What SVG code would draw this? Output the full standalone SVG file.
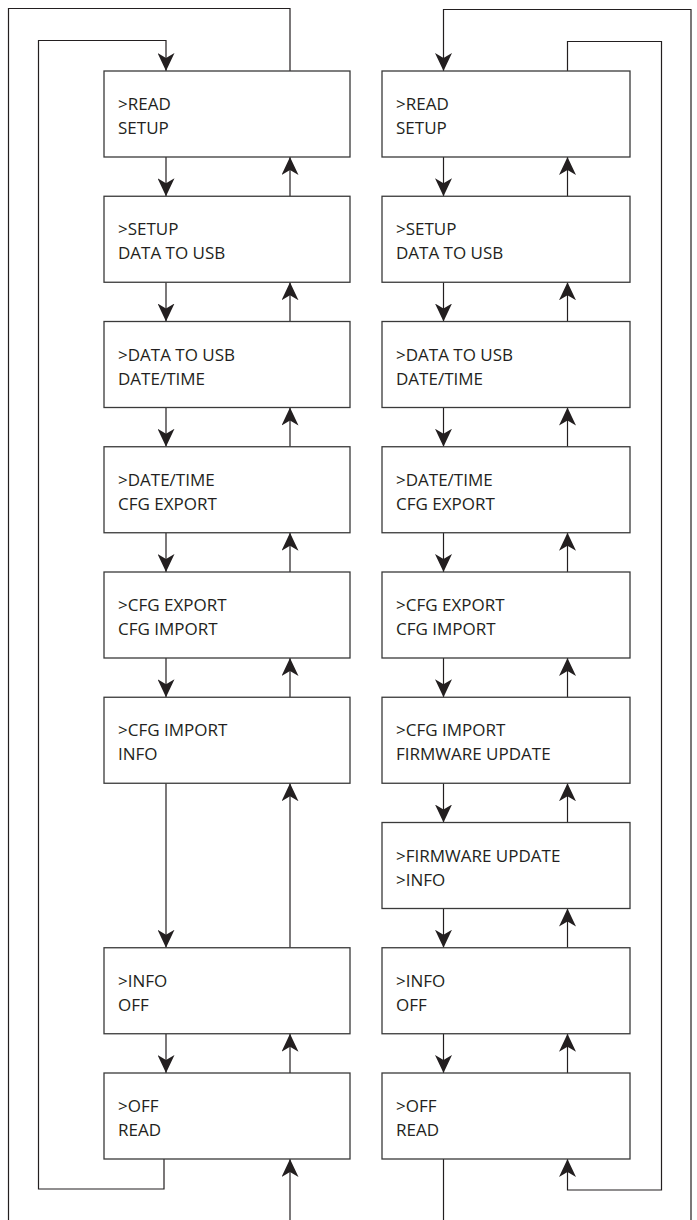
<svg xmlns="http://www.w3.org/2000/svg" width="697" height="1220" viewBox="0 0 697 1220">
<style>
.box rect{fill:#fff;stroke:#3a3a3a;stroke-width:1.3}
.box text{font-family:"Open Sans","Liberation Sans",sans-serif;font-size:17px;fill:#231f20}
.conn path{fill:none;stroke:#231f20;stroke-width:1.2}
</style>
<defs>
<marker id="ah" markerUnits="userSpaceOnUse" markerWidth="18" markerHeight="17" refX="18" refY="8.5" orient="auto" viewBox="0 0 18 17">
<path d="M0,0 L18,8.5 L0,17 L5,8.5 Z" fill="#231f20"/>
</marker>
</defs>
<rect width="697" height="1220" fill="#fff"/>
<g class="conn">
<path d="M166,157 V196.25" marker-end="url(#ah)"/>
<path d="M290,196.25 V157" marker-end="url(#ah)"/>
<path d="M166,282.25 V321.5" marker-end="url(#ah)"/>
<path d="M290,321.5 V282.25" marker-end="url(#ah)"/>
<path d="M166,407.5 V446.75" marker-end="url(#ah)"/>
<path d="M290,446.75 V407.5" marker-end="url(#ah)"/>
<path d="M166,532.75 V572" marker-end="url(#ah)"/>
<path d="M290,572 V532.75" marker-end="url(#ah)"/>
<path d="M166,658 V697.25" marker-end="url(#ah)"/>
<path d="M290,697.25 V658" marker-end="url(#ah)"/>
<path d="M166,783.25 V947.75" marker-end="url(#ah)"/>
<path d="M290,947.75 V783.25" marker-end="url(#ah)"/>
<path d="M166,1033.75 V1073" marker-end="url(#ah)"/>
<path d="M290,1073 V1033.75" marker-end="url(#ah)"/>
<path d="M290,71 V8.5 H8.5 V1220"/>
<path d="M290,1220 V1159" marker-end="url(#ah)"/>
<path d="M164,1159 V1189 H38.5 V40.5 H166 V71" marker-end="url(#ah)"/>
<path d="M443.5,157 V196.25" marker-end="url(#ah)"/>
<path d="M567.5,196.25 V157" marker-end="url(#ah)"/>
<path d="M443.5,282.25 V321.5" marker-end="url(#ah)"/>
<path d="M567.5,321.5 V282.25" marker-end="url(#ah)"/>
<path d="M443.5,407.5 V446.75" marker-end="url(#ah)"/>
<path d="M567.5,446.75 V407.5" marker-end="url(#ah)"/>
<path d="M443.5,532.75 V572" marker-end="url(#ah)"/>
<path d="M567.5,572 V532.75" marker-end="url(#ah)"/>
<path d="M443.5,658 V697.25" marker-end="url(#ah)"/>
<path d="M567.5,697.25 V658" marker-end="url(#ah)"/>
<path d="M443.5,783.25 V822.5" marker-end="url(#ah)"/>
<path d="M567.5,822.5 V783.25" marker-end="url(#ah)"/>
<path d="M443.5,908.5 V947.75" marker-end="url(#ah)"/>
<path d="M567.5,947.75 V908.5" marker-end="url(#ah)"/>
<path d="M443.5,1033.75 V1073" marker-end="url(#ah)"/>
<path d="M567.5,1073 V1033.75" marker-end="url(#ah)"/>
<path d="M443.5,1159 V1220"/>
<path d="M691,1220 V9.5 H443.5 V71" marker-end="url(#ah)"/>
<path d="M567.5,71 V41.5 H661.5 V1190 H567.5 V1159" marker-end="url(#ah)"/>
</g>
<g id="L1" class="box"><rect x="104" y="71" width="246" height="86"/><text x="118" y="110">&gt;READ</text><text x="118" y="134">SETUP</text></g>
<g id="L2" class="box"><rect x="104" y="196.25" width="246" height="86"/><text x="118" y="235.25">&gt;SETUP</text><text x="118" y="259.25">DATA TO USB</text></g>
<g id="L3" class="box"><rect x="104" y="321.5" width="246" height="86"/><text x="118" y="360.5">&gt;DATA TO USB</text><text x="118" y="384.5">DATE/TIME</text></g>
<g id="L4" class="box"><rect x="104" y="446.75" width="246" height="86"/><text x="118" y="485.75">&gt;DATE/TIME</text><text x="118" y="509.75">CFG EXPORT</text></g>
<g id="L5" class="box"><rect x="104" y="572" width="246" height="86"/><text x="118" y="611">&gt;CFG EXPORT</text><text x="118" y="635">CFG IMPORT</text></g>
<g id="L6" class="box"><rect x="104" y="697.25" width="246" height="86"/><text x="118" y="736.25">&gt;CFG IMPORT</text><text x="118" y="760.25">INFO</text></g>
<g id="L7" class="box"><rect x="104" y="947.75" width="246" height="86"/><text x="118" y="986.75">&gt;INFO</text><text x="118" y="1010.75">OFF</text></g>
<g id="L8" class="box"><rect x="104" y="1073" width="246" height="86"/><text x="118" y="1112">&gt;OFF</text><text x="118" y="1136">READ</text></g>
<g id="R1" class="box"><rect x="382" y="71" width="248" height="86"/><text x="396" y="110">&gt;READ</text><text x="396" y="134">SETUP</text></g>
<g id="R2" class="box"><rect x="382" y="196.25" width="248" height="86"/><text x="396" y="235.25">&gt;SETUP</text><text x="396" y="259.25">DATA TO USB</text></g>
<g id="R3" class="box"><rect x="382" y="321.5" width="248" height="86"/><text x="396" y="360.5">&gt;DATA TO USB</text><text x="396" y="384.5">DATE/TIME</text></g>
<g id="R4" class="box"><rect x="382" y="446.75" width="248" height="86"/><text x="396" y="485.75">&gt;DATE/TIME</text><text x="396" y="509.75">CFG EXPORT</text></g>
<g id="R5" class="box"><rect x="382" y="572" width="248" height="86"/><text x="396" y="611">&gt;CFG EXPORT</text><text x="396" y="635">CFG IMPORT</text></g>
<g id="R6" class="box"><rect x="382" y="697.25" width="248" height="86"/><text x="396" y="736.25">&gt;CFG IMPORT</text><text x="396" y="760.25">FIRMWARE UPDATE</text></g>
<g id="R7" class="box"><rect x="382" y="822.5" width="248" height="86"/><text x="396" y="861.5">&gt;FIRMWARE UPDATE</text><text x="396" y="885.5">&gt;INFO</text></g>
<g id="R8" class="box"><rect x="382" y="947.75" width="248" height="86"/><text x="396" y="986.75">&gt;INFO</text><text x="396" y="1010.75">OFF</text></g>
<g id="R9" class="box"><rect x="382" y="1073" width="248" height="86"/><text x="396" y="1112">&gt;OFF</text><text x="396" y="1136">READ</text></g>
</svg>
